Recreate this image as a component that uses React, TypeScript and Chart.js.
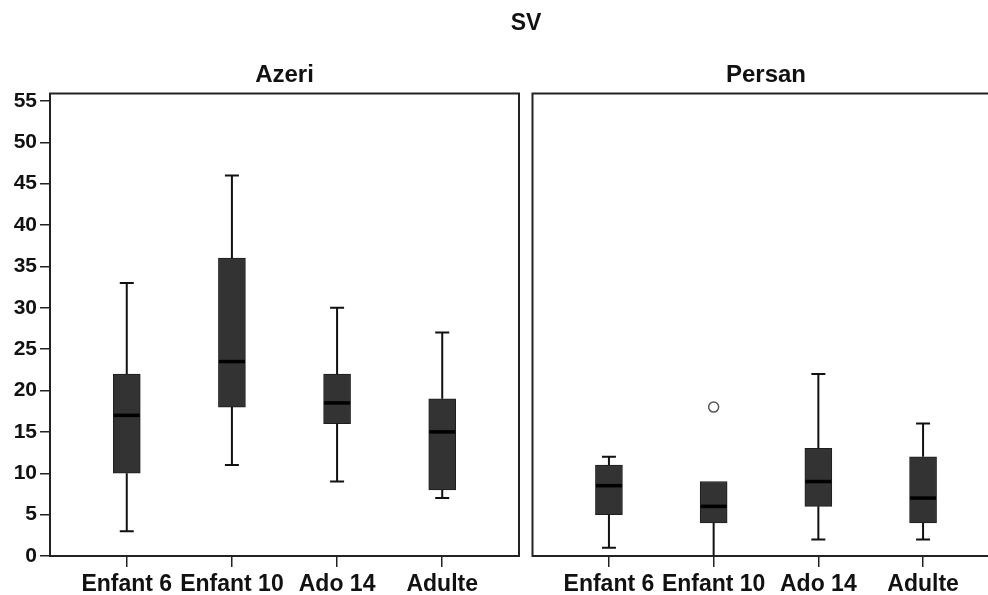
import React, { useEffect, useRef } from "react";
import { Chart, registerables } from "chart.js";

Chart.register(...registerables);

const TITLE = "SV";
const PANELS = ["Azeri", "Persan"];
const CATEGORIES = ["Enfant 6", "Enfant 10", "Ado 14", "Adulte"];
const Y_TICKS = [0, 5, 10, 15, 20, 25, 30, 35, 40, 45, 50, 55];

const AZERI_LOW = [3, 11, 9, 7];
const AZERI_Q1 = [10, 18, 16, 8];
const AZERI_MED = [17, 23.5, 18.5, 15];
const AZERI_Q3 = [22, 36, 22, 19];
const AZERI_HIGH = [33, 46, 30, 27];

const PERSAN_LOW = [1, 0, 2, 2];
const PERSAN_Q1 = [5, 4, 6, 4];
const PERSAN_MED = [8.5, 6, 9, 7];
const PERSAN_Q3 = [11, 9, 13, 12];
const PERSAN_HIGH = [12, 9, 22, 16];
const PERSAN_OUTLIER_CATS = ["Enfant 10"];
const PERSAN_OUTLIER_VALUES = [18];

const FONT = '"Liberation Sans", Arial, Helvetica, sans-serif';
const INK = "#111111";
const BOX_FILL = "#333333";

type Stats = { low: number[]; q1: number[]; med: number[]; q3: number[]; high: number[] };

function makeBoxPlugin(stats: Stats, panelTitle: string, mainTitle: string | null) {
  return {
    id: "boxWhisk_" + panelTitle,
    afterDatasetsDraw(chart: any) {
      const ctx = chart.ctx;
      const xs = chart.scales.x;
      const ys = chart.scales.y;
      ctx.save();
      ctx.lineCap = "butt";
      for (let i = 0; i < CATEGORIES.length; i++) {
        const x = xs.getPixelForValue(i + 1);
        const yLow = ys.getPixelForValue(stats.low[i]);
        const yQ1 = ys.getPixelForValue(stats.q1[i]);
        const yMed = ys.getPixelForValue(stats.med[i]);
        const yQ3 = ys.getPixelForValue(stats.q3[i]);
        const yHigh = ys.getPixelForValue(stats.high[i]);
        ctx.lineWidth = 2;
        ctx.strokeStyle = INK;
        ctx.beginPath();
        if (stats.high[i] > stats.q3[i]) {
          ctx.moveTo(x, yQ3);
          ctx.lineTo(x, yHigh);
          ctx.moveTo(x - 7, yHigh);
          ctx.lineTo(x + 7, yHigh);
        }
        if (stats.low[i] < stats.q1[i]) {
          ctx.moveTo(x, yQ1);
          ctx.lineTo(x, yLow);
          ctx.moveTo(x - 7, yLow);
          ctx.lineTo(x + 7, yLow);
        }
        ctx.stroke();
        ctx.lineWidth = 3.5;
        ctx.strokeStyle = "#000";
        ctx.beginPath();
        ctx.moveTo(x - 13, yMed);
        ctx.lineTo(x + 13, yMed);
        ctx.stroke();
      }
      ctx.restore();
    },
    afterDraw(chart: any) {
      const ctx = chart.ctx;
      const a = chart.chartArea;
      ctx.save();
      ctx.strokeStyle = "#222";
      ctx.lineWidth = 2;
      ctx.strokeRect(a.left, a.top, a.right - a.left, a.bottom - a.top);
      ctx.fillStyle = INK;
      ctx.textAlign = "center";
      ctx.textBaseline = "middle";
      ctx.font = "bold 24px " + FONT;
      ctx.fillText(panelTitle, (a.left + a.right) / 2, 75);
      if (mainTitle) {
        ctx.font = "bold 23px " + FONT;
        ctx.fillText(mainTitle, 526, 24);
      }
      ctx.restore();
    },
  };
}

function makeConfig(stats: Stats, panelTitle: string, mainTitle: string | null, showY: boolean, padding: any, outliers: { x: number; y: number }[]) {
  const boxes = CATEGORIES.map((_, i) => ({ x: i + 1, y: [stats.q1[i], stats.q3[i]] }));
  return {
    type: "bar",
    data: {
      datasets: [
        {
          type: "bar",
          data: boxes,
          backgroundColor: BOX_FILL,
          borderColor: "#1e1e1e",
          borderWidth: 1,
          borderSkipped: false,
          barThickness: 27,
        },
        {
          type: "scatter",
          data: outliers,
          pointStyle: "circle",
          pointRadius: 5,
          pointBorderWidth: 1.5,
          borderColor: "#555",
          backgroundColor: "#fff",
          pointBackgroundColor: "#fff",
          pointBorderColor: "#555",
        },
      ],
    },
    options: {
      responsive: false,
      animation: false,
      events: [],
      layout: { padding },
      plugins: { legend: { display: false }, tooltip: { enabled: false }, title: { display: false } },
      scales: {
        x: {
          type: "linear",
          min: 0.27,
          max: 4.73,
          offset: false,
          afterBuildTicks: (scale: any) => {
            scale.ticks = CATEGORIES.map((_, i) => ({ value: i + 1 }));
          },
          afterFit: (scale: any) => {
            scale.height = 39;
          },
          ticks: {
            autoSkip: false,
            maxRotation: 0,
            padding: 4,
            color: INK,
            font: { family: FONT, size: 23, weight: "bold" },
            callback: (v: number) => CATEGORIES[Math.round(v) - 1] ?? "",
          },
          grid: { display: true, offset: false, drawOnChartArea: false, drawTicks: true, tickLength: 11, color: "#222", lineWidth: 1.5 },
          border: { display: true, color: "#222", width: 2 },
        },
        y: {
          type: "linear",
          display: showY,
          min: 0,
          max: 55.9,
          afterBuildTicks: (scale: any) => {
            scale.ticks = Y_TICKS.map((v) => ({ value: v }));
          },
          afterFit: (scale: any) => {
            scale.width = showY ? 50 : 0;
          },
          ticks: {
            autoSkip: false,
            padding: 3,
            color: INK,
            font: { family: FONT, size: 21, weight: "bold" },
          },
          grid: { display: true, drawOnChartArea: false, drawTicks: true, tickLength: 10, color: "#222", lineWidth: 1.5 },
          border: { display: true, color: "#222", width: 2 },
        },
      },
    },
    plugins: [makeBoxPlugin(stats, panelTitle, mainTitle)],
  };
}

export default function App() {
  const aRef = useRef<HTMLCanvasElement>(null);
  const bRef = useRef<HTMLCanvasElement>(null);

  useEffect(() => {
    const azeri: Stats = { low: AZERI_LOW, q1: AZERI_Q1, med: AZERI_MED, q3: AZERI_Q3, high: AZERI_HIGH };
    const persan: Stats = { low: PERSAN_LOW, q1: PERSAN_Q1, med: PERSAN_MED, q3: PERSAN_Q3, high: PERSAN_HIGH };
    const persanOutliers = PERSAN_OUTLIER_CATS.map((c, i) => ({ x: CATEGORIES.indexOf(c) + 1, y: PERSAN_OUTLIER_VALUES[i] }));
    const a = new Chart(aRef.current as HTMLCanvasElement, makeConfig(azeri, PANELS[0], TITLE, true, { top: 93.5, right: 532, bottom: 0, left: 0 }, []) as any);
    const b = new Chart(bRef.current as HTMLCanvasElement, makeConfig(persan, PANELS[1], null, false, { top: 93.5, right: 5, bottom: 0, left: 6 }, persanOutliers) as any);
    return () => {
      a.destroy();
      b.destroy();
    };
  }, []);

  return (
    <div style={{ position: "absolute", left: 0, top: 0, width: 988, height: 595, overflow: "hidden", background: "#fff" }}>
      <canvas ref={aRef} width={1051} height={595} style={{ position: "absolute", left: 0, top: 0 }} />
      <canvas ref={bRef} width={480} height={595} style={{ position: "absolute", left: 526, top: 0 }} />
    </div>
  );
}
